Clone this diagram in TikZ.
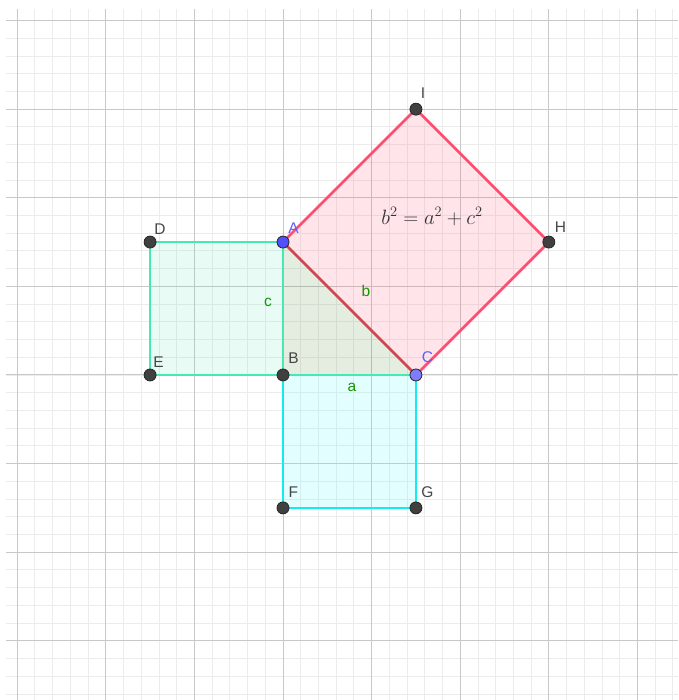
\documentclass[tikz,border=0pt]{standalone}
\usepackage{fontspec}
\newfontfamily\labelfont{Liberation Sans}
\definecolor{gridminor}{RGB}{236,236,236}
\definecolor{gridmajor}{RGB}{200,200,200}
\definecolor{pinkline}{RGB}{255,77,112}
\definecolor{greenline}{RGB}{70,232,180}
\definecolor{cyanline}{RGB}{20,235,240}
\definecolor{cyanfillc}{RGB}{100,250,250}
\definecolor{trifillc}{RGB}{60,120,30}
\definecolor{hypline}{RGB}{205,70,80}
\definecolor{bluept}{RGB}{80,80,255}
\definecolor{bluept2}{RGB}{125,125,255}
\definecolor{bluelabel}{RGB}{95,95,255}
\definecolor{graylabel}{RGB}{70,70,70}
\definecolor{seglabel}{RGB}{20,150,0}
\begin{document}
\begin{tikzpicture}[x=88.6pt,y=88.6pt,
  pt/.style={circle,draw=black!85,line width=0.8pt,fill=black!75,minimum size=12pt,inner sep=0pt},
  ptblue/.style={pt,fill=bluept},
  ptblue2/.style={pt,fill=bluept2},
  lbl/.style={font=\labelfont\fontsize{15.5}{17}\selectfont,text=graylabel,inner sep=0pt},
  lblblue/.style={lbl,text=bluelabel},
  seg/.style={font=\labelfont\fontsize{15.5}{17}\selectfont,text=seglabel,inner sep=0pt},
  edge/.style={line width=2.7pt,line join=round}]
\useasboundingbox (-3.194,-3.668) rectangle (4.458,4.232);
\fill[white] (-3.194,-3.668) rectangle (4.458,4.232);
\draw[gridminor,line width=0.9pt,step=0.2] (-3.126,-3.668) grid (4.458,4.131);
\draw[gridmajor,line width=1pt,step=1] (-3.126,-3.668) grid (4.458,4.131);
% coordinates
\coordinate (pA) at (0,1.5);
\coordinate (pB) at (0,0);
\coordinate (pC) at (1.5,0);
\coordinate (pD) at (-1.5,1.5);
\coordinate (pE) at (-1.5,0);
\coordinate (pF) at (0,-1.5);
\coordinate (pG) at (1.5,-1.5);
\coordinate (pH) at (3,1.5);
\coordinate (pI) at (1.5,3);
% fills
\fill[pinkline,fill opacity=0.14] (pA) -- (pC) -- (pH) -- (pI) -- cycle;
\fill[greenline,fill opacity=0.12] (pA) -- (pB) -- (pE) -- (pD) -- cycle;
\fill[cyanfillc,fill opacity=0.18] (pB) -- (pC) -- (pG) -- (pF) -- cycle;
\fill[trifillc,fill opacity=0.13] (pA) -- (pB) -- (pC) -- cycle;
% outlines
\draw[edge,pinkline] (pA) -- (pC) -- (pH) -- (pI) -- cycle;
\draw[edge,cyanline] (pB) -- (pC) -- (pG) -- (pF) -- cycle;
\draw[edge,greenline] (pA) -- (pB) -- (pE) -- (pD) -- cycle;
\draw[edge,greenline] (pB) -- (pC);
\draw[edge,hypline,line width=2.2pt] (pA) -- (pC);
% points
\node[pt] (D) at (pD) {};
\node[pt] (E) at (pE) {};
\node[pt] (B) at (pB) {};
\node[pt] (F) at (pF) {};
\node[pt] (G) at (pG) {};
\node[pt] (H) at (pH) {};
\node[pt] (I) at (pI) {};
\node[ptblue] (A) at (pA) {};
\node[ptblue2] (C) at (pC) {};
% labels
\node[lblblue] (lA) at (0.118,1.662) {A};
\node[lblblue] (lC) at (1.63,0.203) {C};
\node[lbl] (lD) at (-1.388,1.65) {D};
\node[lbl] (lE) at (-1.406,0.15) {E};
\node[lbl] (lB) at (0.118,0.195) {B};
\node[lbl] (lF) at (0.118,-1.318) {F};
\node[lbl] (lG) at (1.63,-1.318) {G};
\node[lbl] (lH) at (3.13,1.672) {H};
\node[lbl] (lI) at (1.58,3.183) {I};
\node[seg] (la) at (0.779,-0.135) {a};
\node[seg] (lb) at (0.937,0.948) {b};
\node[seg] (lc) at (-0.169,0.824) {c};
\node[inner sep=0pt,text=black!80,font=\fontsize{22}{26}\selectfont] (eq) at (1.682,1.79) {$b^2=a^2+c^2$};
\end{tikzpicture}
\end{document}
